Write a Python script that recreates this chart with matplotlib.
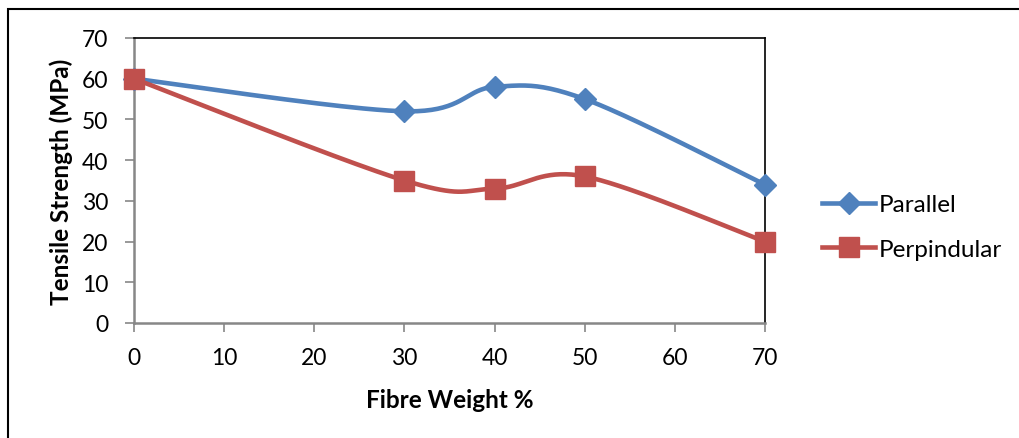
import matplotlib
matplotlib.use("Agg")
import matplotlib.pyplot as plt
from matplotlib.patches import Rectangle
import numpy as np

fibre_weight = [0, 30, 40, 50, 70]
parallel = [60, 52, 58, 55, 34]
perpindular = [60, 35, 33, 36, 20]
x_ticks = [0, 10, 20, 30, 40, 50, 60, 70]
y_ticks = [0, 10, 20, 30, 40, 50, 60, 70]

plt.rcParams['font.family'] = ['Lato', 'DejaVu Sans']


def smooth(xs, ys, n=40):
    # excel-like smoothing: cubic bezier with catmull-rom control points
    xs = np.asarray(xs, float)
    ys = np.asarray(ys, float)
    px = np.concatenate([[xs[0]], xs, [xs[-1]]])
    py = np.concatenate([[ys[0]], ys, [ys[-1]]])
    ox, oy = [], []
    t = np.linspace(0, 1, n)
    for i in range(1, len(px) - 2):
        p0 = np.array([px[i], py[i]])
        p3 = np.array([px[i + 1], py[i + 1]])
        p1 = p0 + (np.array([px[i + 1], py[i + 1]]) - np.array([px[i - 1], py[i - 1]])) / 6
        p2 = p3 - (np.array([px[i + 2], py[i + 2]]) - np.array([px[i], py[i]])) / 6
        b = ((1 - t) ** 3)[:, None] * p0 + (3 * (1 - t) ** 2 * t)[:, None] * p1 \
            + (3 * (1 - t) * t ** 2)[:, None] * p2 + (t ** 3)[:, None] * p3
        ox.extend(b[:, 0])
        oy.extend(b[:, 1])
    return ox, oy


fig = plt.figure(figsize=(10.19, 4.39), dpi=100)
fig.patches.append(Rectangle((8 / 1019, -0.05), 1.1, 1 - 10 / 439 + 0.05,
                             transform=fig.transFigure, fill=False,
                             edgecolor='black', linewidth=1.5))

ax = fig.add_axes([134 / 1019, 1 - 324 / 439, (765 - 134) / 1019, (324 - 39) / 439])

blue = '#4F81BD'
red = '#C0504D'

sx, sy = smooth(fibre_weight, parallel)
ax.plot(sx, sy, color=blue, lw=3.3, solid_capstyle='round', zorder=3, clip_on=False)
ax.plot(fibre_weight, parallel, ls='none', marker='D', ms=11, color=blue, zorder=4, clip_on=False)
sx, sy = smooth(fibre_weight, perpindular)
ax.plot(sx, sy, color=red, lw=3.3, solid_capstyle='round', zorder=3, clip_on=False)
ax.plot(fibre_weight, perpindular, ls='none', marker='s', ms=14, color=red, zorder=4, clip_on=False)

ax.set_xlim(0, 70)
ax.set_ylim(0, 70)
ax.set_xticks(x_ticks)
ax.set_yticks(y_ticks)
ax.tick_params(labelsize=16.5, length=6.5, width=1.2, color='#878787')
ax.tick_params(axis='x', pad=11)
ax.tick_params(axis='y', pad=12)
for s in ['top', 'right']:
    ax.spines[s].set_color('black')
    ax.spines[s].set_linewidth(1.2)
for s in ['left', 'bottom']:
    ax.spines[s].set_color('#878787')
    ax.spines[s].set_linewidth(1.8)

ax.set_xlabel('Fibre Weight %', fontsize=17.5, fontweight='bold', labelpad=14)
ax.set_ylabel('Tensile Strength (MPa)', fontsize=17.5, fontweight='bold', labelpad=6)

h1, = ax.plot([], [], color=blue, lw=3.3, marker='D', ms=11)
h2, = ax.plot([], [], color=red, lw=3.3, marker='s', ms=14)
fig.legend([h1, h2], ['Parallel', 'Perpindular'], loc='center left',
           bbox_to_anchor=(800 / 1019, 1 - 228 / 439), frameon=False,
           fontsize=17.5, handlelength=2.2, handletextpad=0.15, labelspacing=0.95)

fig.savefig('out.png', dpi=100)
